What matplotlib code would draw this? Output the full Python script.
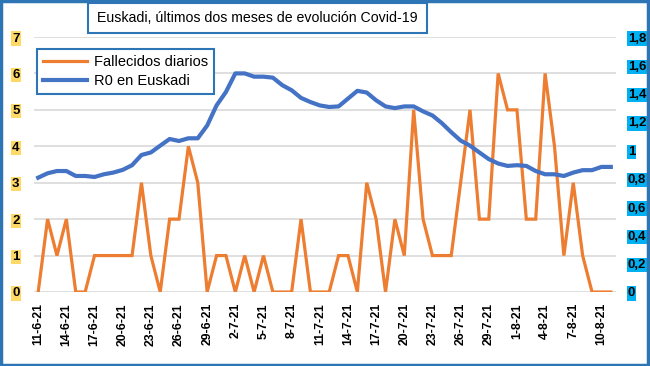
import matplotlib
matplotlib.use('Agg')
import matplotlib.pyplot as plt
from matplotlib.patches import Rectangle

plt.rcParams['font.family'] = ['Liberation Sans', 'DejaVu Sans']

# daily values from 11-6-21 to 11-8-21
FALLECIDOS = [0, 2, 1, 2, 0, 0, 1, 1, 1, 1, 1, 3, 1, 0, 2, 2, 4, 3, 0, 1,
              1, 0, 1, 0, 1, 0, 0, 0, 2, 0, 0, 0, 1, 1, 0, 3, 2, 0, 2, 1,
              5, 2, 1, 1, 1, 3, 5, 2, 2, 6, 5, 5, 2, 2, 6, 4, 1, 3, 1, 0,
              0, 0]
R0 = [0.807, 0.838, 0.854, 0.854, 0.819, 0.819, 0.812, 0.831, 0.843, 0.862,
      0.895, 0.967, 0.985, 1.033, 1.080, 1.066, 1.085, 1.085, 1.175, 1.317,
      1.412, 1.543, 1.543, 1.520, 1.520, 1.513, 1.460, 1.424, 1.370, 1.341,
      1.317, 1.306, 1.310, 1.365, 1.420, 1.408, 1.353, 1.310, 1.298, 1.310,
      1.310, 1.275, 1.246, 1.192, 1.128, 1.069, 1.033, 0.985, 0.938, 0.907,
      0.890, 0.895, 0.890, 0.854, 0.831, 0.831, 0.819, 0.843, 0.860, 0.860,
      0.883, 0.883]
TICK_LABELS = ['11-6-21', '14-6-21', '17-6-21', '20-6-21', '23-6-21', '26-6-21',
               '29-6-21', '2-7-21', '5-7-21', '8-7-21', '11-7-21', '14-7-21',
               '17-7-21', '20-7-21', '23-7-21', '26-7-21', '29-7-21', '1-8-21',
               '4-8-21', '7-8-21', '10-8-21']
LEFT_TICKS = [0, 1, 2, 3, 4, 5, 6, 7]
RIGHT_TICKS = [0, 0.2, 0.4, 0.6, 0.8, 1.0, 1.2, 1.4, 1.6, 1.8]
RIGHT_LABELS = ['0', '0,2', '0,4', '0,6', '0,8', '1', '1,2', '1,4', '1,6', '1,8']

ORANGE = '#ED7D31'
BLUE = '#4472C4'
FRAME = '#2E75B6'

W, H = 650, 366
fig = plt.figure(figsize=(6.5, 3.66), dpi=100)
ax = fig.add_axes([33.5 / W, 1 - 292 / H, (615.5 - 33.5) / W, (292 - 37) / H])
ax2 = ax.twinx()

x = list(range(len(FALLECIDOS)))
l1, = ax.plot(x, FALLECIDOS, color=ORANGE, lw=2.3, label='Fallecidos diarios',
              solid_joinstyle='miter', zorder=3)
l2, = ax2.plot(x, R0, color=BLUE, lw=3, label='R0 en Euskadi', zorder=3)

ax.set_xlim(-0.5, len(x) - 0.5)
ax.set_ylim(0, 7)
ax2.set_ylim(0, 1.8)
ax.set_yticks(LEFT_TICKS)
ax.grid(axis='y', color='#d9d9d9', lw=1.2)
ax.set_axisbelow(True)
ax2.set_yticks(RIGHT_TICKS)
ax2.set_yticklabels(RIGHT_LABELS)

ax.set_xticks(list(range(0, len(x), 3)))
ax.set_xticklabels(TICK_LABELS, rotation=90, fontsize=8.8, fontweight='bold')
ax.tick_params(axis='x', length=0, pad=8)
ax.tick_params(axis='y', length=0, pad=10)
ax2.tick_params(axis='y', length=0, pad=9)
for lab in ax.get_yticklabels():
    lab.set_fontweight('bold'); lab.set_fontsize(9.5)
    lab.set_bbox(dict(facecolor='#FFD966', edgecolor='none', pad=0.8))
for lab in ax2.get_yticklabels():
    lab.set_fontweight('bold'); lab.set_fontsize(9.5)
    lab.set_bbox(dict(facecolor='#00B0F0', edgecolor='none', pad=0.8))
for a in (ax, ax2):
    for s in a.spines.values():
        s.set_visible(False)

leg = ax2.legend(handles=[l1, l2], loc='upper left',
                 bbox_to_anchor=(37 / W, 1 - 49 / H), bbox_transform=fig.transFigure,
                 borderaxespad=0, fontsize=10.5, handlelength=3.0, handletextpad=0.5,
                 fancybox=False, framealpha=1, borderpad=0.4, labelspacing=0.35)
leg.get_frame().set_edgecolor(FRAME)
leg.get_frame().set_linewidth(1.5)

# title with its own box
fig.patches.append(Rectangle((88 / W, 1 - 33 / H), (427 - 88) / W, 30 / H,
                             transform=fig.transFigure, facecolor='white',
                             edgecolor=FRAME, lw=1.5))
fig.text(257.5 / W, 1 - 18.5 / H, 'Euskadi, últimos dos meses de evolución Covid-19',
         ha='center', va='center', fontsize=10.2)

fig.patches.append(Rectangle((0.002, 0.003), 0.995, 0.994, transform=fig.transFigure,
                             fill=False, edgecolor=FRAME, lw=2.5))

fig.savefig('out.png', dpi=100)
